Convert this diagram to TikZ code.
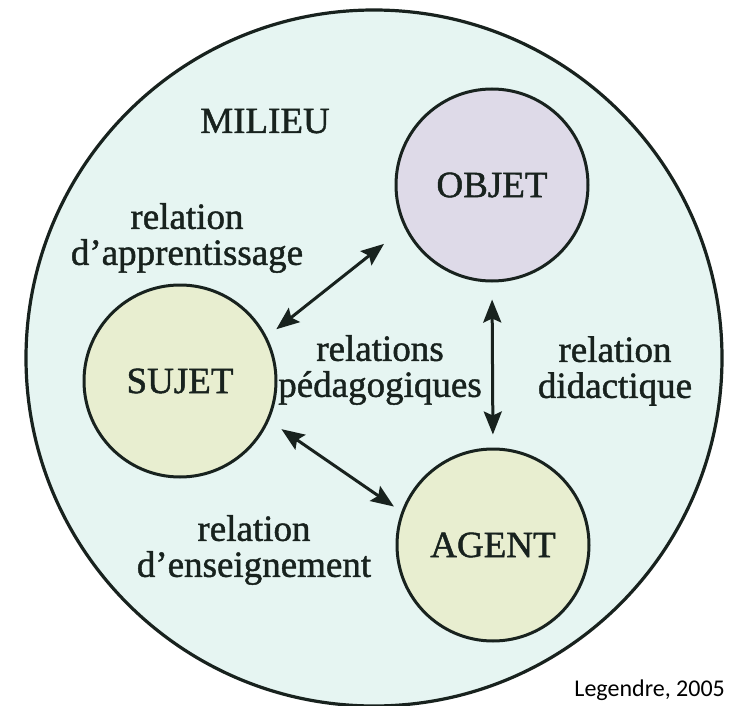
\documentclass[tikz,border=0pt]{standalone}
\usepackage{fontspec}
\setmainfont{Liberation Serif}[FakeBold=1.2]
\newfontfamily\calibfont{Carlito}
\usetikzlibrary{arrows.meta}
\definecolor{milieubg}{RGB}{230,245,242}
\definecolor{objetbg}{RGB}{222,218,232}
\definecolor{sujetbg}{RGB}{232,238,208}
\definecolor{ink}{RGB}{24,34,30}
\begin{document}
\begin{tikzpicture}[x=1pt,y=-1pt,
  bigcirc/.style={circle,draw=ink,fill=milieubg,line width=3.2pt,minimum size=696pt,inner sep=0pt},
  actor/.style={circle,draw=ink,line width=3pt,minimum size=192pt,inner sep=0pt,text=ink,
    font=\fontsize{37}{36}\selectfont},
  lbl/.style={text=ink,inner sep=0pt,align=center,font=\fontsize{37}{36}\selectfont},
  conn/.style={{Stealth[length=23pt,width=18pt,inset=4pt]}-{Stealth[length=23pt,width=18pt,inset=4pt]},
    line width=3pt,draw=ink}]
\useasboundingbox (0,0) rectangle (734,706);
\fill[white] (0,0) rectangle (734,706);
\begin{scope}
\clip (0,0) rectangle (734,706);
\node[bigcirc] (milieu) at (374,358) {};
\end{scope}
\node[actor,fill=objetbg] (objet) at (492,185) {OBJET};
\node[actor,fill=sujetbg] (sujet) at (180,381) {SUJET};
\node[actor,fill=sujetbg] (agent) at (493,545) {AGENT};
\node[lbl,anchor=base] (milieulbl) at (265,133) {MILIEU};
\node[lbl] (lapp) at (187,238) {relation\\d'apprentissage};
\node[lbl] (lped) at (380,370) {relations\\pédagogiques};
\node[lbl] (ldid) at (615,371) {relation\\didactique};
\node[lbl] (lens) at (254,550) {relation\\d'enseignement};
\node[inner sep=0pt,anchor=base east,font=\calibfont\fontsize{24}{28}\selectfont] (src) at (725,696) {Legendre, 2005};
\draw[conn,shorten <=26pt,shorten >=12pt] (objet.206) -- (sujet.27);
\draw[conn,shorten <=15pt,shorten >=9pt] (sujet.-24) -- (agent.160);
\draw[conn,shorten <=17pt,shorten >=13pt] (objet.south) -- (agent.north);
\end{tikzpicture}
\end{document}
